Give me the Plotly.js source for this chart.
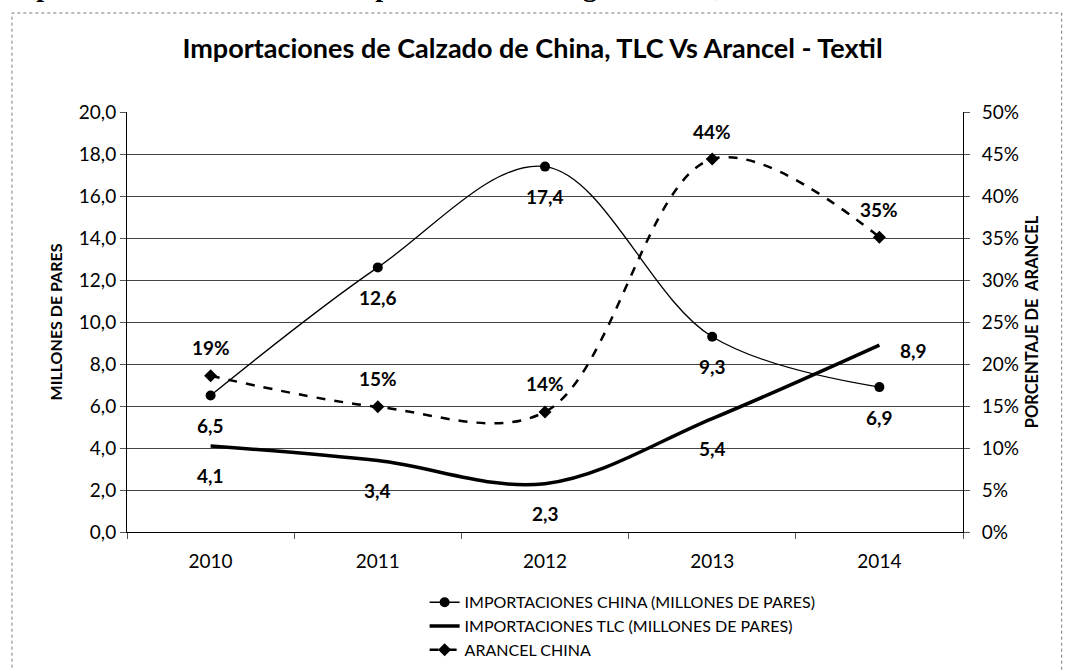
<!DOCTYPE html>
<html>
<head>
<meta charset="utf-8">
<script src="https://cdn.plot.ly/plotly-3.0.1.min.js"></script>
<style>
  body { margin: 0; background: #fff; }
  #chart { width: 1065px; height: 670px; }
</style>
</head>
<body>
<div id="chart"></div>
<script>
document.addEventListener('DOMContentLoaded', function() {
    // Datos
    var years = ['2010', '2011', '2012', '2013', '2014'];
    var importChina = [6.5, 12.6, 17.4, 9.3, 6.9];
    var importTLC = [4.1, 3.4, 2.3, 5.4, 8.9];
    var arancelChina = [0.186, 0.149, 0.143, 0.444, 0.351];

    var fontName = 'Lato, "Open Sans", sans-serif';

    function coma(v) { return v.toFixed(1).replace('.', ','); }
    function pct(v) { return Math.round(v * 100) + '%'; }

    var data = [{
        x: years, y: importChina,
        name: 'IMPORTACIONES CHINA (MILLONES DE PARES)',
        type: 'scatter', mode: 'lines+markers',
        line: {color: '#000', width: 1.3, shape: 'spline', smoothing: 1},
        marker: {symbol: 'circle', size: 10, color: '#000'}
    }, {
        x: years, y: importTLC,
        name: 'IMPORTACIONES TLC (MILLONES DE PARES)',
        type: 'scatter', mode: 'lines',
        line: {color: '#000', width: 3.5, shape: 'spline', smoothing: 1}
    }, {
        x: years, y: arancelChina,
        name: 'ARANCEL CHINA',
        yaxis: 'y2',
        type: 'scatter', mode: 'lines+markers',
        line: {color: '#000', width: 2.5, dash: 'dash', shape: 'spline', smoothing: 1},
        marker: {symbol: 'diamond', size: 10, color: '#000'}
    }];

    // Etiquetas de datos (x por indice de categoria)
    var labelFont = {family: fontName, size: 19, color: '#000'};
    var annotations = [];
    years.forEach(function(yr, i) {
        annotations.push({x: i, y: importChina[i], xref: 'x', yref: 'y',
            text: '<b>' + coma(importChina[i]) + '</b>', showarrow: false,
            yshift: -30, font: labelFont});
        var last = i === years.length - 1;
        annotations.push({x: i, y: importTLC[i], xref: 'x', yref: 'y',
            text: '<b>' + coma(importTLC[i]) + '</b>', showarrow: false,
            xshift: last ? 34 : 0, yshift: last ? -5 : -30, font: labelFont});
        annotations.push({x: i, y: arancelChina[i], xref: 'x', yref: 'y2',
            text: '<b>' + pct(arancelChina[i]) + '</b>', showarrow: false,
            yshift: 28, font: labelFont});
    });

    // Texto recortado arriba de la imagen
    annotations.push({
        xref: 'paper', yref: 'paper', x: -0.152, y: 1.256,
        xanchor: 'left', yanchor: 'bottom', showarrow: false,
        text: '<b>Importaciones de calzado de capítulo china - Origen: China, 2010 - 2014</b>',
        font: {family: '"Liberation Serif", serif', size: 28, color: '#000'}
    });

    var layout = {
        width: 1065, height: 670,
        margin: {l: 127, r: 102, t: 112, b: 138, autoexpand: false},
        paper_bgcolor: '#fff', plot_bgcolor: '#fff',
        separators: ',.',
        font: {family: fontName, size: 16, color: '#000'},
        title: {
            text: '<b>Importaciones de Calzado de China, TLC Vs Arancel - Textil</b>',
            font: {family: fontName, size: 27, color: '#000'},
            x: 0.5, xanchor: 'center', y: 0.928, yanchor: 'middle'
        },
        xaxis: {
            type: 'category', range: [-0.5, 4.5],
            showline: true, linecolor: '#000', linewidth: 1,
            ticks: 'outside', tickson: 'boundaries', ticklen: 6, tickcolor: '#555',
            showgrid: false, zeroline: false,
            ticklabelstandoff: 12,
            tickfont: {size: 19}
        },
        yaxis: {
            range: [0, 20], dtick: 2, tickformat: '.1f',
            showline: true, linecolor: '#000', linewidth: 1,
            ticks: 'outside', ticklen: 6, tickcolor: '#555',
            showgrid: true, gridcolor: '#444', gridwidth: 1, zeroline: false,
            title: {text: '<b>MILLONES DE PARES</b>', font: {size: 16}, standoff: 12},
            tickfont: {size: 19}
        },
        yaxis2: {
            overlaying: 'y', side: 'right',
            range: [0, 0.5], dtick: 0.05, tickformat: '.0%',
            showline: true, linecolor: '#000', linewidth: 1,
            ticks: 'outside', ticklen: 6, tickcolor: '#555',
            showgrid: false, zeroline: false,
            ticklabelstandoff: 8,
            title: {text: '<b>PORCENTAJE DE  ARANCEL</b>', font: {size: 16.5}, standoff: 8},
            tickfont: {size: 19}
        },
        legend: {
            x: 0.356, y: -0.127, xanchor: 'left', yanchor: 'top',
            orientation: 'v', bgcolor: 'rgba(0,0,0,0)',
            font: {family: fontName, size: 16, color: '#000'},
            tracegroupgap: 0, itemwidth: 30
        },
        shapes: [{
            type: 'rect', xref: 'paper', yref: 'paper',
            x0: -0.1376, x1: 1.118, y0: -0.6, y1: 1.2357,
            line: {color: '#777', width: 1, dash: 'dot'}
        }],
        annotations: annotations
    };

    Plotly.newPlot('chart', data, layout, {displayModeBar: false, staticPlot: true});
});
</script>
</body>
</html>
